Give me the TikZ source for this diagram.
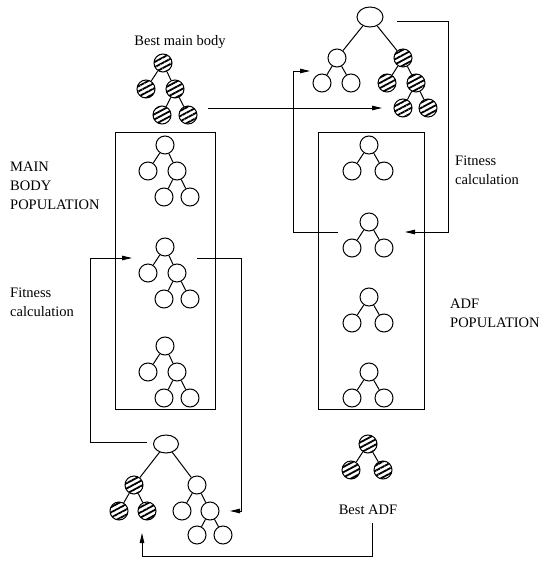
\documentclass[tikz,border=0pt]{standalone}
\usepackage{fontspec}
\setmainfont{Liberation Serif}
\usetikzlibrary{arrows.meta,shapes.geometric,patterns.meta}
\tikzset{
 nd/.style={circle,draw,line width=1pt,minimum size=18pt,inner sep=0pt},
 hn/.style={nd,pattern={Lines[angle=28,distance=4.6pt,line width=1.8pt]}},
 rt/.style={ellipse,draw,line width=1pt,minimum width=26pt,minimum height=20pt,inner sep=0pt},
 ed/.style={line width=1pt},
 cn/.style={line width=0.9pt},
 ar/.style={cn,-{Triangle[length=10pt,width=4.5pt]}},
 lb/.style={font=\fontsize{14.5}{19}\selectfont,align=left,inner sep=0pt},
 bx/.style={draw,line width=1pt}
}
% five-node tree: prefix, x, y, style
\newcommand{\fivetree}[4]{%
 \node[#4] (#1r) at (#2,#3) {};
 \node[#4] (#1a) at ({#2-17},{#3+26}) {};
 \node[#4] (#1b) at ({#2+12},{#3+26}) {};
 \node[#4] (#1c) at ({#2-1},{#3+52}) {};
 \node[#4] (#1d) at ({#2+25},{#3+52}) {};
 \draw[ed] (#1r) -- (#1a) (#1r) -- (#1b) (#1b) -- (#1c) (#1b) -- (#1d);
}
\newcommand{\threetree}[4]{%
 \node[#4] (#1r) at (#2,#3) {};
 \node[#4] (#1a) at ({#2-17},{#3+26}) {};
 \node[#4] (#1b) at ({#2+15},{#3+26}) {};
 \draw[ed] (#1r) -- (#1a) (#1r) -- (#1b);
}
\begin{document}
\begin{tikzpicture}[x=1pt,y=-1pt]
\useasboundingbox (0,0) rectangle (544,561);
% boxes
\draw[bx] (115,133) rectangle (215,409);
\draw[bx] (318,133) rectangle (424,409);
% labels
\node[lb,anchor=center] (lbmb) at (180,42) {Best main body};
\node[lb,anchor=west] (lmain) at (10,186) {MAIN\\BODY\\POPULATION};
\node[lb,anchor=west] (lfit1) at (10,302) {Fitness\\calculation};
\node[lb,anchor=west] (lfit2) at (455,170) {Fitness\\calculation};
\node[lb,anchor=west] (ladf) at (450,313) {ADF\\POPULATION};
\node[lb,anchor=center] (lbadf) at (368,510) {Best ADF};
% best main body
\fivetree{bm}{163}{63}{hn}
% main population
\fivetree{ma}{165}{145}{nd}
\fivetree{mb}{165}{247}{nd}
\fivetree{mc}{165}{346}{nd}
% ADF population
\threetree{aa}{369}{145}{nd}
\threetree{ab}{369}{222}{nd}
\threetree{ac}{369}{297}{nd}
\threetree{ad}{369}{372}{nd}
% best ADF
\threetree{ba}{368}{444}{hn}
% top combined tree
\node[rt] (tr) at (370,17) {};
\node[nd] (tL) at (337,58) {};
\node[nd] (tLL) at (322,83) {};
\node[nd] (tLR) at (351,83) {};
\node[hn] (tR) at (403,58) {};
\node[hn] (tRL) at (387,83) {};
\node[hn] (tRR) at (416,83) {};
\node[hn] (tRRL) at (403,108) {};
\node[hn] (tRRR) at (428,108) {};
\draw[ed] (tr) -- (tL) (tr) -- (tR) (tL) -- (tLL) (tL) -- (tLR)
  (tR) -- (tRL) (tR) -- (tRR) (tRR) -- (tRRL) (tRR) -- (tRRR);
% bottom combined tree
\node[rt,minimum height=18pt,minimum width=25pt] (br) at (166,444) {};
\node[hn] (bL) at (134,485) {};
\node[hn] (bLL) at (119,511) {};
\node[hn] (bLR) at (147,511) {};
\node[nd] (bR) at (197,485) {};
\node[nd] (bRL) at (182,511) {};
\node[nd] (bRR) at (210,511) {};
\node[nd] (bRRL) at (197,535) {};
\node[nd] (bRRR) at (223,535) {};
\draw[ed] (br) -- (bL) (br) -- (bR) (bL) -- (bLL) (bL) -- (bLR)
  (bR) -- (bRL) (bR) -- (bRR) (bRR) -- (bRRL) (bRR) -- (bRRR);
% connector end points
\coordinate (c1s) at (208,108);
\coordinate (c1e) at (382,108);
\coordinate (c2s) at (147,442);
\coordinate (c2m) at (90,258);
\coordinate (c2e) at (132,258);
\coordinate (c3s) at (197,258);
\coordinate (c3m) at (241,258);
\coordinate (c3e) at (230,511);
\coordinate (c4s) at (372,523);
\coordinate (c4m) at (372,556);
\coordinate (c4e) at (142,533);
\coordinate (c5s) at (397,21);
\coordinate (c5m) at (448,232);
\coordinate (c5e) at (405,232);
\coordinate (c6s) at (338,232);
\coordinate (c6m) at (293,71);
\coordinate (c6e) at (310,71);
% connectors
\draw[ar] (c1s) -- (c1e);
\draw[ar] (c2s) -| (c2m) -- (c2e);
\draw[ar] (c3s) -- (c3m) |- (c3e);
\draw[ar] (c4s) -- (c4m) -| (c4e);
\draw[ar] (c5s) -| (c5m) -- (c5e);
\draw[ar] (c6s) -| (c6m) -- (c6e);
\end{tikzpicture}
\end{document}
